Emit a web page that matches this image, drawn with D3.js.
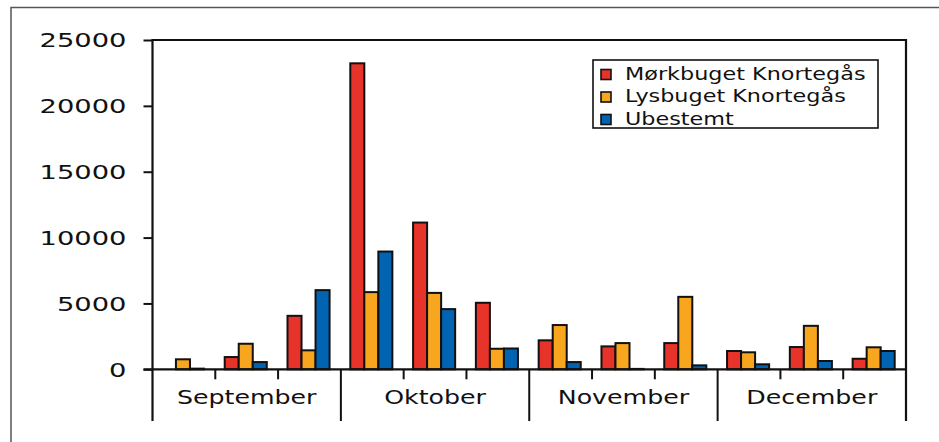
<!DOCTYPE html>
<html>
<head>
<meta charset="utf-8">
<script src="https://d3js.org/d3.v7.min.js"></script>
<style>
  body { margin: 0; background: #fff; }
  text { font-family: "DejaVu Sans", Verdana, sans-serif; fill: #111; }
</style>
</head>
<body>
<div id="chart"></div>
<script>
// months, each split into three sub-periods
var months = ["September", "Oktober", "November", "December"];
var periodsPerMonth = 3;
var seriesNames = ["Mørkbuget Knortegås", "Lysbuget Knortegås", "Ubestemt"];
var seriesColors = ["#e8332a", "#f9a61f", "#0064b2"];

var morkbuget = [0, 930, 4060, 23230, 11140, 5050, 2200, 1740, 1990, 1390, 1690, 800];
var lysbuget  = [760, 1940, 1440, 5860, 5800, 1560, 3360, 1990, 5500, 1290, 3300, 1670];
var ubestemt  = [50, 550, 6010, 8940, 4570, 1580, 550, 30, 300, 380, 630, 1390];

var yTicks = [0, 5000, 10000, 15000, 20000, 25000];

var W = 939, H = 442;
var plotLeft = 152.5, plotRight = 906, plotTop = 40, zero = 369.3, bottomLine = 421;

var svg = d3.select("#chart").append("svg")
  .attr("width", W)
  .attr("height", H);

svg.append("rect").attr("width", W).attr("height", H).attr("fill", "#fff");

// outer frame (runs off the right and bottom edge)
svg.append("path")
  .attr("d", "M11," + (H + 5) + "V7.5H" + (W + 5))
  .attr("fill", "none")
  .attr("stroke", "#555")
  .attr("stroke-width", 1.5);

var groups = d3.range(months.length * periodsPerMonth);
var data = groups.map(function(i) {
  return [morkbuget[i], lysbuget[i], ubestemt[i]];
});

var x0 = d3.scaleBand().domain(groups).range([plotLeft, plotRight]);
var bw = x0.bandwidth();
var x1 = d3.scaleBand().domain(d3.range(seriesNames.length))
  .range([bw * 0.15, bw * 0.82]);
var y = d3.scaleLinear().domain([0, 25000]).range([zero, plotTop]);

var xm = d3.scaleBand().domain(months).range([plotLeft, plotRight]);

// bars
var g = svg.selectAll(".grp")
  .data(data)
  .enter().append("g")
  .attr("transform", function(d, i) { return "translate(" + x0(i) + ",0)"; });

g.selectAll("rect")
  .data(function(d) { return d.map(function(v, k) { return {v: v, k: k}; }); })
  .enter().append("rect")
  .filter(function(d) { return d.v > 0; })
  .attr("x", function(d) { return x1(d.k); })
  .attr("width", x1.bandwidth())
  .attr("y", function(d) { return y(d.v); })
  .attr("height", function(d) { return zero - y(d.v); })
  .attr("fill", function(d) { return seriesColors[d.k]; })
  .attr("stroke", "#111")
  .attr("stroke-width", 2);

// plot frame: left, top, right
svg.append("path")
  .attr("d", "M" + plotLeft + "," + bottomLine + "V" + plotTop + "H" + plotRight + "V" + bottomLine)
  .attr("fill", "none")
  .attr("stroke", "#111")
  .attr("stroke-width", 2.2);

// y axis
var yAxis = d3.axisLeft(y).tickValues(yTicks).tickSize(9).tickPadding(0);
var ya = svg.append("g").attr("transform", "translate(" + plotLeft + ",0)").call(yAxis);
ya.select(".domain").remove();
ya.selectAll(".tick line").attr("stroke", "#111").attr("stroke-width", 2);
ya.selectAll(".tick text").remove();
ya.selectAll(".tick").append("text")
  .attr("text-anchor", "end")
  .attr("dy", "0.36em")
  .attr("transform", "translate(-26,0) scale(1.44,1)")
  .style("font-size", "19px")
  .text(function(d) { return d; });

// zero baseline
svg.append("line")
  .attr("x1", plotLeft - 9).attr("x2", plotRight)
  .attr("y1", zero).attr("y2", zero)
  .attr("stroke", "#111").attr("stroke-width", 2.2);

// small ticks between periods, long dividers between months
groups.slice(1).forEach(function(i) {
  var isMonth = i % periodsPerMonth === 0;
  svg.append("line")
    .attr("x1", x0(i)).attr("x2", x0(i))
    .attr("y1", zero).attr("y2", isMonth ? bottomLine : zero + 10)
    .attr("stroke", "#111").attr("stroke-width", 2);
});

// month labels
svg.selectAll(".month")
  .data(months)
  .enter().append("text")
  .attr("text-anchor", "middle")
  .attr("transform", function(d) {
    return "translate(" + (xm(d) + xm.bandwidth() / 2) + ",404) scale(1.33,1)";
  })
  .style("font-size", "19px")
  .text(function(d) { return d; });

// legend
var legend = svg.append("g").attr("transform", "translate(593,60)");
legend.append("rect")
  .attr("width", 285).attr("height", 68)
  .attr("fill", "#fff").attr("stroke", "#111").attr("stroke-width", 1.6);

var items = legend.selectAll(".item")
  .data(seriesNames)
  .enter().append("g")
  .attr("transform", function(d, i) { return "translate(0," + (i * 22.5) + ")"; });

items.append("rect")
  .attr("x", 8).attr("y", 9.5)
  .attr("width", 10).attr("height", 10)
  .attr("fill", function(d, i) { return seriesColors[i]; })
  .attr("stroke", "#111").attr("stroke-width", 1.6);

items.append("text")
  .attr("transform", "translate(32,19.5) scale(1.24,1)")
  .style("font-size", "18px")
  .text(function(d) { return d; });
</script>
</body>
</html>
